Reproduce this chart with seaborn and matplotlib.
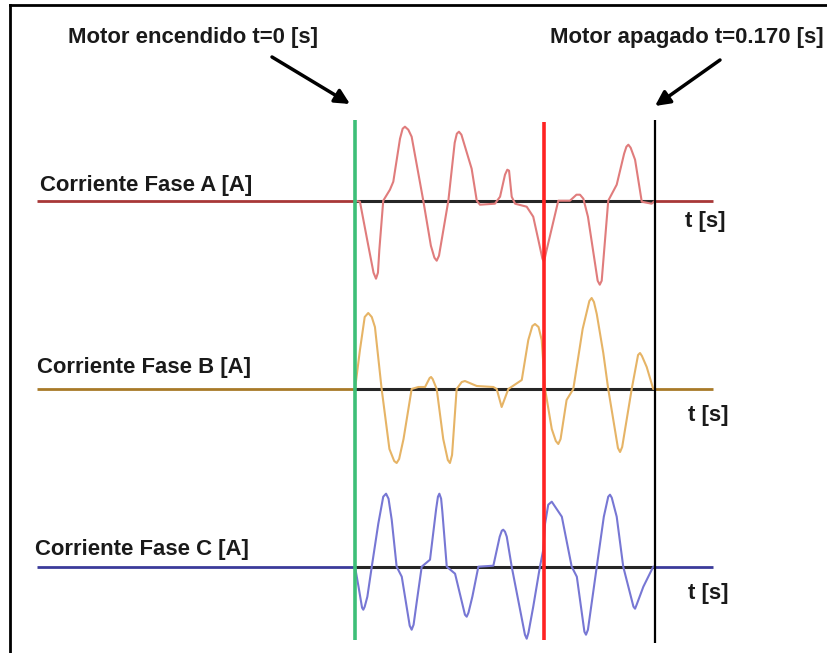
"""
Phase currents of the motor between switch-on (t=0) and switch-off (t=0.170 s).
"""

import matplotlib
matplotlib.use('Agg')
import matplotlib.pyplot as plt
import seaborn as sns
import pandas as pd

# event markers [ms]
T_ON = 0.0
T_MARK = 107.0
T_OFF = 170.0

# baseline extent [ms]
BASE_START = -180.0
BASE_END = 203.0

# (t [ms], current)
phase_a = [
    (0, 0), (2.8, -1), (7, -40), (10.5, -72), (11.9, -78), (13, -72), (13.8, -49),
    (16, 0), (19.8, 11), (21.7, 19), (25.5, 62), (27, 72), (28.3, 74), (30.2, 71),
    (32.1, 64), (38.7, 0), (43, -45), (45, -57), (46.3, -60), (47.6, -55),
    (52.9, 0), (56.5, 58), (57.7, 67), (58.9, 69), (60.3, 66), (66.1, 32), (69, 0),
    (70.8, -4), (79.3, -3), (82.2, 4), (85, 26), (86.3, 31), (87.3, 30), (88.8, 4),
    (90.7, -3), (97.3, -6), (101, -16), (104, -40), (106.2, -58), (107.1, -61),
    (108.5, -50), (115.2, 0), (121.8, 0), (125.5, 6), (127.5, 6), (129.4, 2),
    (132, -16), (137.5, -80), (138.7, -84), (139.8, -80), (143.5, 0), (148.3, 16),
    (152.5, 47), (153.8, 54), (154.9, 56), (156.2, 53), (158.7, 41), (162.5, -1),
    (168.1, -3), (170, 0),
]
phase_b = [
    (0, 0), (2.8, 39), (5.5, 72), (7.5, 76), (9.5, 72), (11.3, 62), (15.1, 0),
    (19.5, -60), (22.2, -72), (23.6, -74), (25, -70), (27.5, -50), (32.1, 0),
    (35.9, 2), (39.7, 2), (42.3, 11), (43.1, 12), (44, 10), (46.3, 0), (50, -50),
    (52.6, -71), (53.8, -74), (55, -66), (57.6, 0), (60.5, 7), (62.3, 8), (69, 3),
    (78.4, 2), (80.3, 0), (83.1, -18), (86.9, 0), (94.5, 9), (98.2, 49),
    (100.5, 63), (102, 65), (104, 62), (105.8, 49), (107.7, 0), (111.5, -40),
    (113.8, -52), (115.2, -55), (116.5, -50), (119.9, -11), (123.7, 0), (129, 60),
    (132.8, 88), (134.1, 91), (135.4, 87), (137, 75), (140.7, 36), (143.5, 0),
    (149, -59), (150.2, -63), (151.4, -58), (156.8, 0), (160.4, 34), (161.5, 36),
    (162.6, 33), (165.3, 22), (169, 0), (170, 0),
]
phase_c = [
    (0, 0), (2, -20), (4, -41), (4.7, -43), (5.5, -40), (7, -30), (9.5, 0),
    (13.2, 43), (16, 70), (17.6, 73), (19, 68), (20.8, 47), (23.6, 0), (26.5, -10),
    (31, -59), (32.1, -63), (33.2, -58), (35, -35), (37.8, 0), (42.5, 7), (46, 58),
    (47, 70), (47.8, 73), (48.8, 68), (49.5, 55), (52, 0), (56.7, -7), (62.3, -48),
    (63.3, -50), (64.3, -46), (66.5, -30), (69.9, 0), (78.4, 1), (82, 30), (83.2, 36),
    (84, 37), (85, 35), (86, 30), (88.8, 0), (96.3, -68), (97.3, -72), (98.3, -66),
    (101, -40), (104.8, 0), (106.7, 17), (107.7, 43), (109.5, 62), (111.5, 65),
    (117.2, 50), (122.8, 0), (125.7, -10), (130, -65), (130.9, -68), (132, -63),
    (137, 0), (141, 50), (143.5, 70), (144.5, 72), (145.5, 69), (148.3, 50),
    (152, 0), (157.8, -40), (158.7, -42), (159.6, -38), (163.4, -20), (169, 0),
    (170, 0),
]

PHASE_LABELS = ['Corriente Fase A [A]', 'Corriente Fase B [A]', 'Corriente Fase C [A]']

# layout helpers (picture is 827x653 px, 300 px == 170 ms)
MS_PER_PX = 170.0 / 300.0
X0_PX = 355
FONT_SIZE = 15.9


def px(x):
    return (x - X0_PX) * MS_PER_PX


sns.set_theme(style='white')
plt.rcParams['font.family'] = ['Liberation Sans', 'DejaVu Sans']

fig = plt.figure(figsize=(8.27, 6.53), dpi=100)
ax = fig.add_axes([10 / 827, 0, 817 / 827, 648 / 653])
ax.set_xlim(px(10), px(827))
ax.set_ylim(653, 5)
ax.set_xticks([])
ax.set_yticks([])
for side in ['right', 'bottom']:
    ax.spines[side].set_visible(False)
for side in ['left', 'top']:
    ax.spines[side].set_linewidth(2)
    ax.spines[side].set_color('black')

phases = [
    # data, baseline y, wave colour, axis colour, label pos, t label pos
    (phase_a, 200.7, '#e07c7c', '#a83838', (40, 185), (685, 222)),
    (phase_b, 389.0, '#e6b466', '#a87a28', (37, 367), (688, 416)),
    (phase_c, 566.7, '#7777d4', '#3b3b9a', (35, 549), (688, 594)),
]

for (data, base, wave_col, axis_col, lab_pos, t_pos), label in zip(phases, PHASE_LABELS):
    df = pd.DataFrame(data, columns=['t', 'i'])
    df['y'] = base - df['i']
    ax.hlines(base, BASE_START, BASE_END, color=axis_col, lw=2, zorder=1)
    ax.hlines(base, T_ON, T_OFF, color='#262626', lw=2.2, zorder=2)
    sns.lineplot(data=df, x='t', y='y', ax=ax, color=wave_col, lw=1.5,
                 estimator=None, sort=False, zorder=3)
    ax.text(px(lab_pos[0]), lab_pos[1], label, fontsize=FONT_SIZE, fontweight='bold',
            color='#1a1a1a', ha='left', va='center')
    ax.text(px(t_pos[0]), t_pos[1], 't [s]', fontsize=FONT_SIZE, fontweight='bold',
            color='#1a1a1a', ha='left', va='center')

ax.vlines(T_ON, 120, 640, color='#3dbf78', lw=2.6, zorder=4)
ax.vlines(T_MARK, 122, 640, color='#ff2222', lw=2.6, zorder=4)
ax.vlines(T_OFF, 120, 643, color='black', lw=1.6, zorder=4)

ax.text(px(193), 38, 'Motor encendido t=0 [s]', fontsize=FONT_SIZE, fontweight='bold',
        color='#1a1a1a', ha='center', va='center')
ax.text(px(824), 37, 'Motor apagado t=0.170 [s]', fontsize=FONT_SIZE, fontweight='bold',
        color='#1a1a1a', ha='right', va='center')

arrow = dict(arrowstyle='-|>', lw=2.5, color='black', mutation_scale=22,
             shrinkA=0, shrinkB=0)
ax.annotate('', xy=(px(350), 104), xytext=(px(272), 57), arrowprops=arrow)
ax.annotate('', xy=(px(655), 106), xytext=(px(720), 60), arrowprops=arrow)

ax.set_xlabel('')
ax.set_ylabel('')

plt.savefig('out.png', dpi=100)
plt.close()
print('saved out.png')
